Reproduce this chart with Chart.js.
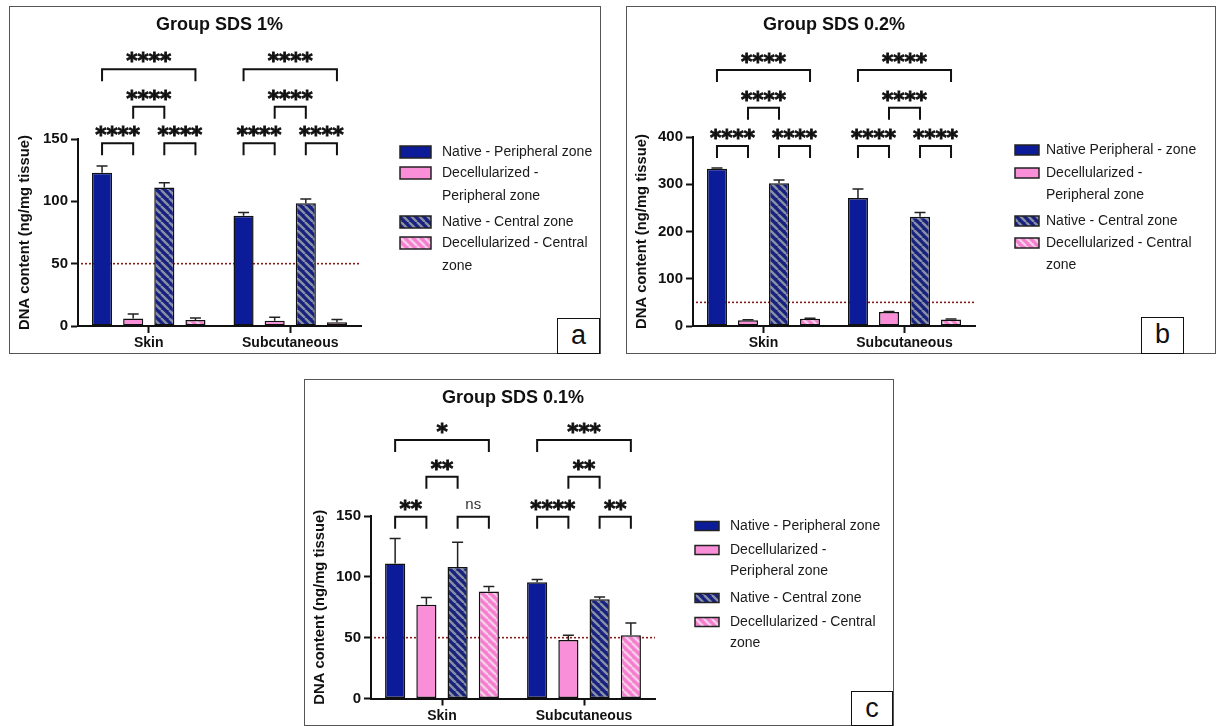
<!DOCTYPE html>
<html>
<head>
<meta charset="utf-8">
<script src="https://cdn.jsdelivr.net/npm/chart.js@4.4.0/dist/chart.umd.min.js"></script>
<style>
  html, body { margin: 0; padding: 0; background: #fff; width: 1218px; height: 726px; overflow: hidden;
    font-family: "Liberation Sans", Arial, sans-serif; }
  .panel { position: absolute; border: 1.5px solid #555; box-sizing: border-box; }
  .wrap { position: absolute; }
  .tag { position: absolute; border: 1.5px solid #111; box-sizing: border-box; background: #fff;
    font-size: 27px; line-height: 32px; text-align: center; color: #111; }
</style>
</head>
<body>
<div class="panel" style="left:9px;top:6px;width:592px;height:348px"></div>
<div class="panel" style="left:626px;top:6px;width:590px;height:348px"></div>
<div class="panel" style="left:304px;top:379px;width:590px;height:347px"></div>

<div class="wrap" style="left:9px;top:6px"><canvas id="chartA" width="591" height="347"></canvas></div>
<div class="wrap" style="left:626px;top:6px"><canvas id="chartB" width="589" height="347"></canvas></div>
<div class="wrap" style="left:304px;top:379px"><canvas id="chartC" width="589" height="347"></canvas></div>

<div class="tag" style="left:557px;top:318px;width:43px;height:36px">a</div>
<div class="tag" style="left:1141px;top:317px;width:43px;height:37px">b</div>
<div class="tag" style="left:851px;top:691px;width:42px;height:35px">c</div>

<script>
/* values (mean, SD above the bar) */
const categories = ["Skin", "Subcutaneous"];
const seriesNames = ["Native - Peripheral zone", ["Decellularized -", "Peripheral zone"],
                     "Native - Central zone", ["Decellularized - Central", "zone"]];
const seriesNamesB = ["Native Peripheral - zone", ["Decellularized -", "Peripheral zone"],
                      "Native - Central zone", ["Decellularized - Central", "zone"]];
const threshold = 50;
const yTitle = "DNA content (ng/mg tissue)";

// Group SDS 1%
const sds1NativePeriph = [123, 88.5];
const sds1NativePeriphSd = [5.3, 2.5];
const sds1DecellPeriph = [6, 4.3];
const sds1DecellPeriphSd = [3.6, 2.7];
const sds1NativeCentral = [111, 98.5];
const sds1NativeCentralSd = [4, 3.4];
const sds1DecellCentral = [4.8, 3];
const sds1DecellCentralSd = [1.6, 2.2];
const sds1Ticks = [0, 50, 100, 150];
const sds1Sig = [["****", "****", "****", "****"], ["****", "****", "****", "****"]];

// Group SDS 0.2%
const sds02NativePeriph = [333, 271];
const sds02NativePeriphSd = [1.5, 19];
const sds02DecellPeriph = [12, 29.5];
const sds02DecellPeriphSd = [1, 1];
const sds02NativeCentral = [302, 231];
const sds02NativeCentralSd = [7, 9];
const sds02DecellCentral = [15.5, 13.5];
const sds02DecellCentralSd = [1, 1.5];
const sds02Ticks = [0, 100, 200, 300, 400];
const sds02Sig = [["****", "****", "****", "****"], ["****", "****", "****", "****"]];

// Group SDS 0.1%
const sds01NativePeriph = [111, 95.5];
const sds01NativePeriphSd = [20.5, 2.3];
const sds01DecellPeriph = [77, 48];
const sds01DecellPeriphSd = [6, 4];
const sds01NativeCentral = [108, 81.5];
const sds01NativeCentralSd = [20.5, 2];
const sds01DecellCentral = [88, 52];
const sds01DecellCentralSd = [4, 10];
const sds01Ticks = [0, 50, 100, 150];
const sds01Sig = [["**", "ns", "**", "*"], ["****", "**", "**", "***"]];

// comparisons inside each group: bar pair + bracket level (order matches the Sig rows)
const pairs = [[0, 1], [2, 3], [1, 2], [0, 3]];
const pairLevel = [0, 0, 1, 2];

const FONT = "'Liberation Sans', Arial, sans-serif";
const INK = "#111";

function hatch(bg, fg) {
  const c = document.createElement("canvas");
  c.width = c.height = 8;
  const x = c.getContext("2d");
  x.fillStyle = bg; x.fillRect(0, 0, 8, 8);
  x.strokeStyle = fg; x.lineWidth = 2.4;
  x.beginPath();
  for (const o of [-8, 0, 8]) { x.moveTo(o, 0); x.lineTo(o + 8, 8); }
  x.stroke();
  return x.createPattern(c, "repeat");
}
const navy = "#0c1c98";
const pink = "#f98fd8";
const fills = [navy, pink, hatch("#17227e", "#8a8ea6"), hatch("#f47fce", "#f7cdea")];

const extras = {
  id: "extras",
  beforeDatasetsDraw(chart, args, o) {
    const { ctx, chartArea: a, scales: { y } } = chart;
    const yy = y.getPixelForValue(threshold);
    ctx.save();
    ctx.strokeStyle = "#8b1c1c"; ctx.lineWidth = 1.6; ctx.setLineDash([2, 2]);
    ctx.beginPath(); ctx.moveTo(a.left + 3, yy); ctx.lineTo(a.right, yy); ctx.stroke();
    ctx.restore();
  },
  afterDatasetsDraw(chart, args, o) {
    const { ctx, scales: { y } } = chart;
    ctx.save();
    // error bars
    ctx.strokeStyle = "#222"; ctx.lineWidth = 1.5;
    chart.data.datasets.forEach((ds, di) => {
      chart.getDatasetMeta(di).data.forEach((bar, i) => {
        const top = y.getPixelForValue(ds.data[i]);
        const end = y.getPixelForValue(ds.data[i] + ds.sd[i]);
        ctx.beginPath();
        ctx.moveTo(bar.x, top); ctx.lineTo(bar.x, end);
        ctx.moveTo(bar.x - 5.5, end); ctx.lineTo(bar.x + 5.5, end);
        ctx.stroke();
      });
    });
    // significance brackets
    ctx.strokeStyle = INK; ctx.lineWidth = 2; ctx.fillStyle = INK; ctx.textAlign = "center";
    o.sig.forEach((row, ci) => {
      row.forEach((label, pi) => {
        const [p, q] = pairs[pi];
        const x1 = chart.getDatasetMeta(p).data[ci].x;
        const x2 = chart.getDatasetMeta(q).data[ci].x;
        const top = o.levels[pairLevel[pi]];
        ctx.beginPath();
        ctx.moveTo(x1, top + 12); ctx.lineTo(x1, top); ctx.lineTo(x2, top); ctx.lineTo(x2, top + 12);
        ctx.stroke();
        ctx.font = label === "ns" ? "15px " + FONT : "bold 21.5px 'DejaVu Sans'";
        ctx.fillStyle = label === "ns" ? "#333" : INK;
        const m = ctx.measureText(label);
        const ty = top - 12 + (m.actualBoundingBoxAscent - m.actualBoundingBoxDescent) / 2;
        ctx.fillText(label, (x1 + x2) / 2, ty);
        if (label !== "ns") {
          ctx.lineWidth = 0.9; ctx.strokeText(label, (x1 + x2) / 2, ty);
          ctx.lineWidth = 2;
        }
      });
    });
    // legend
    const L = o.legend;
    ctx.textAlign = "left"; ctx.textBaseline = "middle"; ctx.font = "14px " + FONT;
    chart.data.datasets.forEach((ds, di) => {
      const yy = L.rows[di];
      ctx.fillStyle = ds.backgroundColor;
      ctx.fillRect(L.sx, yy - L.sh / 2, L.sw, L.sh);
      ctx.strokeStyle = "#222"; ctx.lineWidth = 1.5;
      ctx.strokeRect(L.sx, yy - L.sh / 2, L.sw, L.sh);
      ctx.fillStyle = "#1a1a1a";
      const lines = Array.isArray(ds.label) ? ds.label : [ds.label];
      lines.forEach((t, k) => ctx.fillText(t, L.tx, yy + k * L.lh));
    });
    ctx.restore();
  }
};

function makePanel(id, box, area, title, names, series, sds, ticks, sig, levels, legend) {
  const [x0, y0, W, H] = box;
  const cl = area.l - x0, ct = area.t - y0, cr = area.r - x0, cb = area.b - y0;
  const titleSize = 18, titlePadTop = 8.5;
  const titlePadBottom = ct - titlePadTop - titleSize * 1.2;
  const toLocal = v => v - y0;
  new Chart(document.getElementById(id), {
    type: "bar",
    data: {
      labels: categories,
      datasets: series.map((s, i) => ({
        label: names[i], data: s, sd: sds[i],
        backgroundColor: fills[i], borderColor: INK, borderWidth: 1.5, borderSkipped: false,
        categoryPercentage: 0.88, barPercentage: 0.645,
      })),
    },
    options: {
      responsive: false, animation: false, events: [],
      layout: { padding: { left: 0, right: W - cr, top: 0, bottom: 0 } },
      plugins: {
        legend: { display: false }, tooltip: { enabled: false },
        title: { display: true, text: title, fullSize: false, color: INK,
          font: { family: FONT, size: titleSize, weight: "bold" },
          padding: { top: titlePadTop, bottom: titlePadBottom } },
        extras: {
          sig, levels,
          legend: { sx: legend.sx - x0, sw: legend.sw, sh: legend.sh, tx: legend.tx - x0,
                    lh: legend.lh, rows: legend.rows.map(toLocal) },
        },
      },
      scales: {
        x: {
          grid: { display: true, offset: false, drawOnChartArea: false, tickLength: 7, tickWidth: 2, tickColor: INK },
          border: { color: INK, width: 2 },
          ticks: { color: INK, font: { family: FONT, size: 14, weight: "bold" }, padding: 2 },
          afterFit: s => { s.height = H - cb; },
        },
        y: {
          min: ticks[0], max: ticks[ticks.length - 1],
          afterBuildTicks: s => { s.ticks = ticks.map(v => ({ value: v })); },
          grid: { drawOnChartArea: false, tickLength: 7, tickWidth: 2, tickColor: INK },
          border: { color: INK, width: 2 },
          ticks: { color: INK, font: { family: FONT, size: 15, weight: "bold" }, padding: 3 },
          title: { display: true, text: yTitle, color: INK,
            font: { family: FONT, size: 14.8, weight: "bold" }, padding: { top: 7, bottom: 0 } },
          afterFit: s => { s.width = cl; },
        },
      },
    },
    plugins: [extras],
  });
}

makePanel("chartA", [9, 6, 591, 347], { l: 78, t: 139, r: 361, b: 326 }, "Group SDS 1%", seriesNames,
  [sds1NativePeriph, sds1DecellPeriph, sds1NativeCentral, sds1DecellCentral],
  [sds1NativePeriphSd, sds1DecellPeriphSd, sds1NativeCentralSd, sds1DecellCentralSd],
  sds1Ticks, sds1Sig, [137.3, 100.7, 63.3],
  { sx: 400, sw: 31, sh: 12, tx: 442, lh: 23, rows: [152, 173, 222, 243] });

makePanel("chartB", [626, 6, 589, 347], { l: 693, t: 137, r: 975, b: 326 }, "Group SDS 0.2%", seriesNamesB,
  [sds02NativePeriph, sds02DecellPeriph, sds02NativeCentral, sds02DecellCentral],
  [sds02NativePeriphSd, sds02DecellPeriphSd, sds02NativeCentralSd, sds02DecellCentralSd],
  sds02Ticks, sds02Sig, [140, 101.7, 64],
  { sx: 1015, sw: 24, sh: 10, tx: 1046, lh: 22, rows: [150, 173, 221, 243] });

makePanel("chartC", [304, 379, 589, 347], { l: 371, t: 516, r: 655, b: 698.5 }, "Group SDS 0.1%", seriesNames,
  [sds01NativePeriph, sds01DecellPeriph, sds01NativeCentral, sds01DecellCentral],
  [sds01NativePeriphSd, sds01DecellPeriphSd, sds01NativeCentralSd, sds01DecellCentralSd],
  sds01Ticks, sds01Sig, [137.7, 97.7, 61],
  { sx: 695, sw: 24, sh: 9, tx: 730, lh: 21, rows: [526, 550, 598, 622] });
</script>
</body>
</html>
